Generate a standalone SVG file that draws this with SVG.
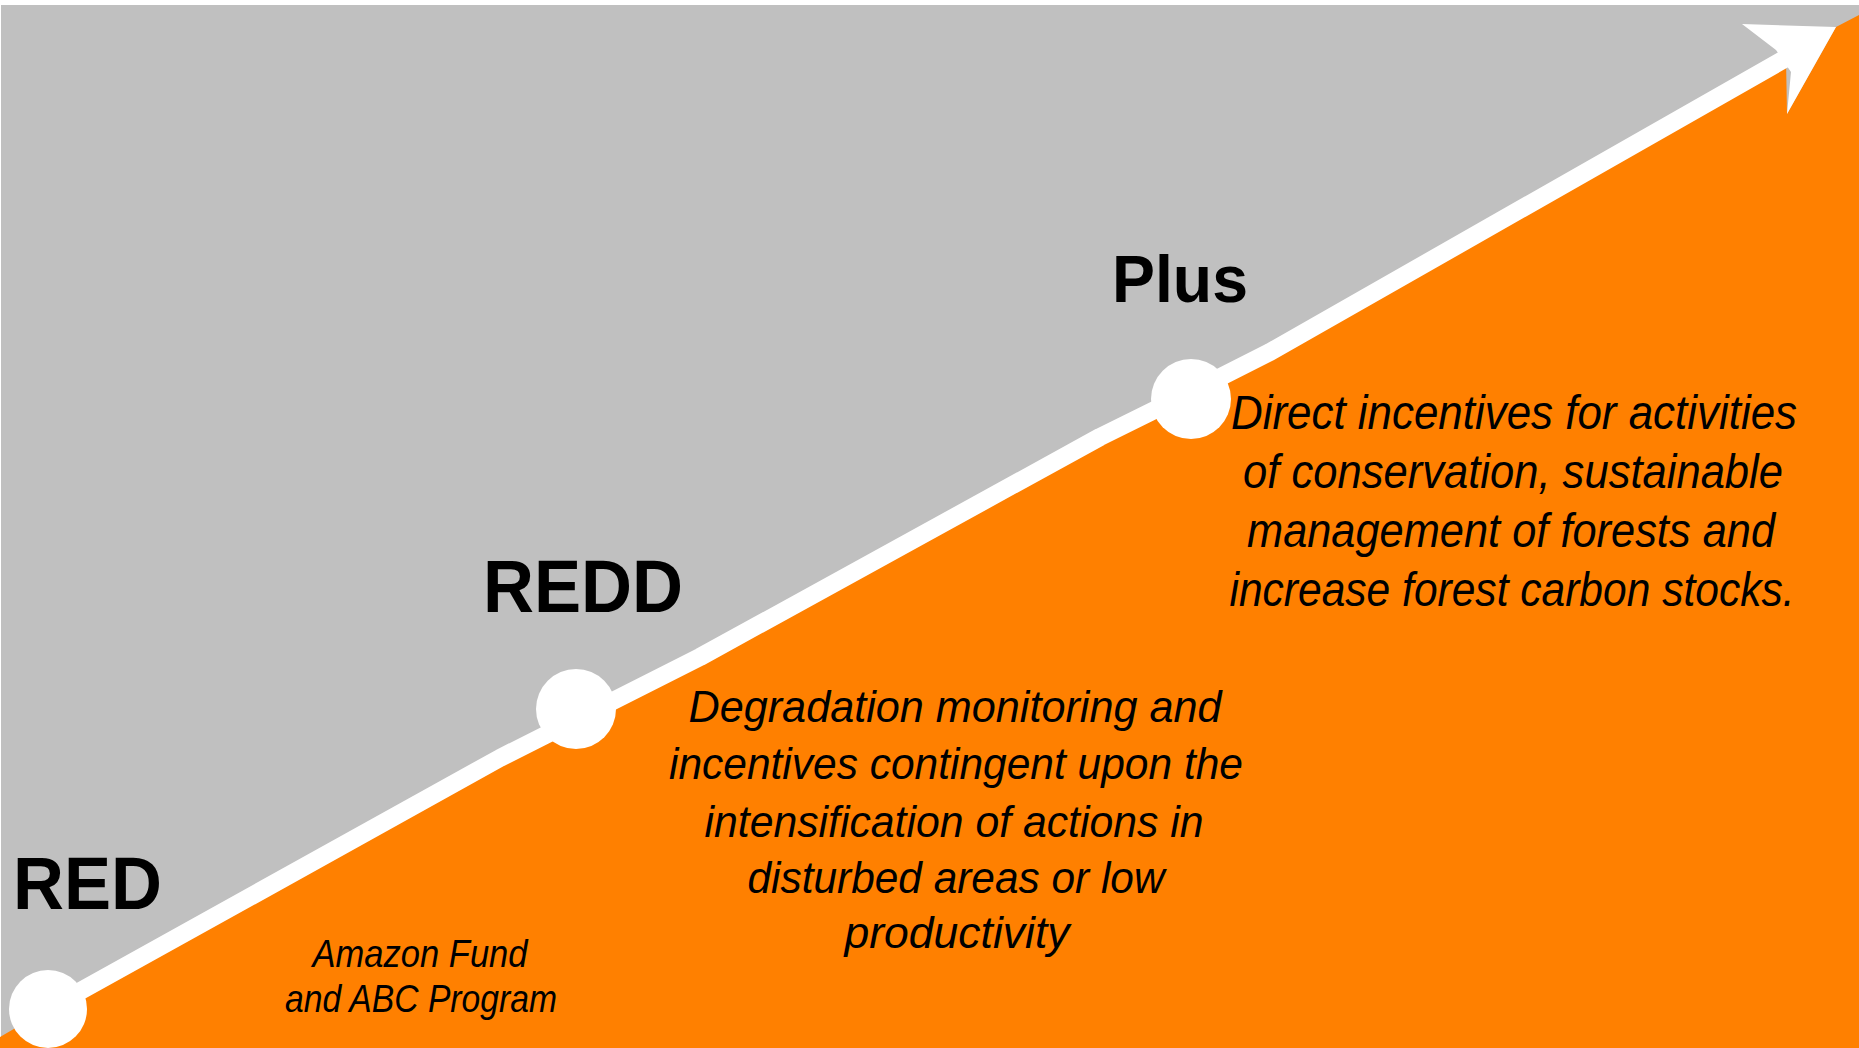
<svg xmlns="http://www.w3.org/2000/svg" width="1859" height="1048" viewBox="0 0 1859 1048">
<style>
.bg{fill:#ffffff}
.sky{fill:#c0c0c0}
.ground{fill:#ff8000}
.band{fill:none;stroke:#ffffff;stroke-width:18;stroke-linejoin:round;stroke-linecap:butt}
.dot{fill:#ffffff}
.head{fill:#ffffff}
.title{font-family:"Liberation Sans",Arial,sans-serif;font-weight:bold;fill:#000000}
.desc{font-family:"Liberation Sans",Arial,sans-serif;font-style:italic;fill:#000000;text-anchor:middle}
</style>
<rect class="bg" x="0" y="0" width="1859" height="1048"/>
<rect class="sky" x="1" y="5" width="1858" height="1043"/>
<polygon class="ground" points="0,1037 48,1009 500,758 700,657 1100,437 1191,392 1270,352 1786,58 1787,114 1836,27 1859,15 1859,1048 0,1048"/>
<g id="connectors">
<polyline class="band" points="48,1009 500,758 700,657 1100,437 1191,392 1270,352 1788,57"/>
<polygon class="head" points="1742,24 1836,27 1787,114 1791,72 1776,50"/>
</g>
<g id="node-red">
<circle class="dot" cx="48" cy="1009" r="39"/>
<text class="title" x="13" y="909" font-size="74" textLength="149" lengthAdjust="spacingAndGlyphs">RED</text>
<text class="desc" x="420" y="967" font-size="38" textLength="215" lengthAdjust="spacingAndGlyphs">Amazon Fund</text>
<text class="desc" x="421" y="1012" font-size="38" textLength="272" lengthAdjust="spacingAndGlyphs">and ABC Program</text>
</g>
<g id="node-redd">
<circle class="dot" cx="576" cy="709" r="40"/>
<text class="title" x="483" y="612" font-size="74" textLength="200" lengthAdjust="spacingAndGlyphs">REDD</text>
<text class="desc" x="955" y="722" font-size="45" textLength="533" lengthAdjust="spacingAndGlyphs">Degradation monitoring and</text>
<text class="desc" x="956" y="779" font-size="45" textLength="574" lengthAdjust="spacingAndGlyphs">incentives contingent upon the</text>
<text class="desc" x="954" y="837" font-size="45" textLength="499" lengthAdjust="spacingAndGlyphs">intensification of actions in</text>
<text class="desc" x="956" y="893" font-size="45" textLength="417" lengthAdjust="spacingAndGlyphs">disturbed areas or low</text>
<text class="desc" x="957" y="948" font-size="45" textLength="225" lengthAdjust="spacingAndGlyphs">productivity</text>
</g>
<g id="node-plus">
<circle class="dot" cx="1191" cy="399" r="40"/>
<text class="title" x="1112" y="302" font-size="66" textLength="136" lengthAdjust="spacingAndGlyphs">Plus</text>
<text class="desc" x="1514" y="429" font-size="48" textLength="566" lengthAdjust="spacingAndGlyphs">Direct incentives for activities</text>
<text class="desc" x="1513" y="488" font-size="48" textLength="540" lengthAdjust="spacingAndGlyphs">of conservation, sustainable</text>
<text class="desc" x="1511" y="547" font-size="48" textLength="528" lengthAdjust="spacingAndGlyphs">management of forests and</text>
<text class="desc" x="1512" y="606" font-size="48" textLength="565" lengthAdjust="spacingAndGlyphs">increase forest carbon stocks.</text>
</g>
</svg>
